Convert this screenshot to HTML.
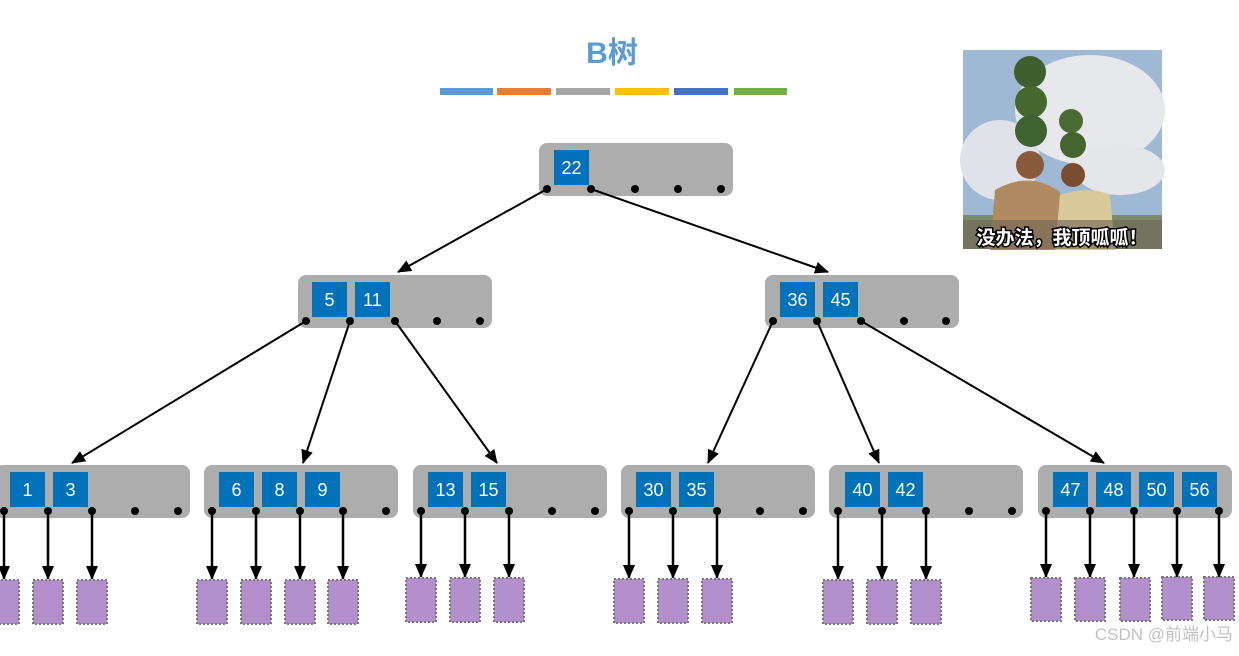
<!DOCTYPE html>
<html><head><meta charset="utf-8"><style>
body{margin:0;background:#fff;width:1239px;height:651px;overflow:hidden;font-family:"Liberation Sans","Noto Sans CJK SC",sans-serif}
</style></head><body>
<svg width="1239" height="651" xmlns="http://www.w3.org/2000/svg" font-family="Liberation Sans, Noto Sans CJK SC, sans-serif">
<defs>
<marker id="a" markerWidth="8" markerHeight="8" refX="7" refY="4" orient="auto" markerUnits="userSpaceOnUse"><path d="M0,0 L8,4 L0,8z" fill="#000"/></marker>
<marker id="b" markerWidth="14" markerHeight="12" refX="13" refY="6" orient="auto" markerUnits="userSpaceOnUse"><path d="M0,0 L14,6 L0,12z" fill="#000"/></marker>
</defs>
<text x="612" y="63" font-size="30" font-weight="bold" fill="#5b9bd5" text-anchor="middle">B树</text>
<g>
<rect x="440" y="88" width="53" height="7" fill="#5b9bd5"/>
<rect x="497" y="88" width="54" height="7" fill="#ed7d31"/>
<rect x="556" y="88" width="54" height="7" fill="#a5a5a5"/>
<rect x="615" y="88" width="54" height="7" fill="#ffc000"/>
<rect x="674" y="88" width="54" height="7" fill="#4472c4"/>
<rect x="734" y="88" width="53" height="7" fill="#70ad47"/>
</g>
<!-- nodes -->
<g fill="#adadad">
<rect x="539" y="143" width="194" height="53" rx="8"/>
<rect x="298" y="275" width="194" height="53" rx="8"/>
<rect x="765" y="275" width="194" height="53" rx="8"/>
<rect x="-5" y="465" width="195" height="53" rx="8"/>
<rect x="204" y="465" width="194" height="53" rx="8"/>
<rect x="413" y="465" width="194" height="53" rx="8"/>
<rect x="621" y="465" width="194" height="53" rx="8"/>
<rect x="829" y="465" width="194" height="53" rx="8"/>
<rect x="1038" y="465" width="194" height="53" rx="8"/>
</g>
<g fill="#0072b9">
<rect x="554" y="150" width="35" height="35"/>
<rect x="312" y="282" width="35" height="35"/><rect x="355" y="282" width="35" height="35"/>
<rect x="780" y="282" width="35" height="35"/><rect x="823" y="282" width="35" height="35"/>
<rect x="10" y="472" width="35" height="35"/><rect x="53" y="472" width="35" height="35"/>
<rect x="219" y="472" width="35" height="35"/><rect x="262" y="472" width="35" height="35"/><rect x="305" y="472" width="35" height="35"/>
<rect x="428" y="472" width="35" height="35"/><rect x="471" y="472" width="35" height="35"/>
<rect x="636" y="472" width="35" height="35"/><rect x="679" y="472" width="35" height="35"/>
<rect x="845" y="472" width="35" height="35"/><rect x="888" y="472" width="35" height="35"/>
<rect x="1053" y="472" width="35" height="35"/><rect x="1096" y="472" width="35" height="35"/><rect x="1139" y="472" width="35" height="35"/><rect x="1182" y="472" width="35" height="35"/>
</g>
<g fill="#fff" font-size="18" text-anchor="middle">
<text x="571.5" y="174">22</text>
<text x="329.5" y="306">5</text><text x="372.5" y="306">11</text>
<text x="797.5" y="306">36</text><text x="840.5" y="306">45</text>
<text x="27.5" y="496">1</text><text x="70.5" y="496">3</text>
<text x="236.5" y="496">6</text><text x="279.5" y="496">8</text><text x="322.5" y="496">9</text>
<text x="445.5" y="496">13</text><text x="488.5" y="496">15</text>
<text x="653.5" y="496">30</text><text x="696.5" y="496">35</text>
<text x="862.5" y="496">40</text><text x="905.5" y="496">42</text>
<text x="1070.5" y="496">47</text><text x="1113.5" y="496">48</text><text x="1156.5" y="496">50</text><text x="1199.5" y="496">56</text>
</g>
<!-- dots -->
<g fill="#000">
<circle cx="547" cy="189" r="4"/><circle cx="591" cy="189" r="4"/><circle cx="635" cy="189" r="4"/><circle cx="678" cy="189" r="4"/><circle cx="721" cy="189" r="4"/>
<circle cx="306" cy="321" r="4"/><circle cx="350" cy="321" r="4"/><circle cx="395" cy="321" r="4"/><circle cx="437" cy="321" r="4"/><circle cx="480" cy="321" r="4"/>
<circle cx="773" cy="321" r="4"/><circle cx="817" cy="321" r="4"/><circle cx="861" cy="321" r="4"/><circle cx="904" cy="321" r="4"/><circle cx="946" cy="321" r="4"/>
<circle cx="4" cy="511" r="4"/><circle cx="48" cy="511" r="4"/><circle cx="92" cy="511" r="4"/><circle cx="135" cy="511" r="4"/><circle cx="178" cy="511" r="4"/>
<circle cx="212" cy="511" r="4"/><circle cx="256" cy="511" r="4"/><circle cx="300" cy="511" r="4"/><circle cx="343" cy="511" r="4"/><circle cx="386" cy="511" r="4"/>
<circle cx="421" cy="511" r="4"/><circle cx="465" cy="511" r="4"/><circle cx="509" cy="511" r="4"/><circle cx="552" cy="511" r="4"/><circle cx="595" cy="511" r="4"/>
<circle cx="629" cy="511" r="4"/><circle cx="673" cy="511" r="4"/><circle cx="717" cy="511" r="4"/><circle cx="760" cy="511" r="4"/><circle cx="803" cy="511" r="4"/>
<circle cx="838" cy="511" r="4"/><circle cx="882" cy="511" r="4"/><circle cx="926" cy="511" r="4"/><circle cx="969" cy="511" r="4"/><circle cx="1012" cy="511" r="4"/>
<circle cx="1046" cy="511" r="4"/><circle cx="1090" cy="511" r="4"/><circle cx="1134" cy="511" r="4"/><circle cx="1177" cy="511" r="4"/><circle cx="1219" cy="511" r="4"/>
</g>
<!-- arrows -->
<g stroke="#000" stroke-width="2" fill="none" marker-end="url(#b)">
<line x1="547" y1="189" x2="398" y2="272"/>
<line x1="591" y1="189" x2="828" y2="272"/>
<line x1="306" y1="321" x2="72" y2="463"/>
<line x1="350" y1="321" x2="303" y2="463"/>
<line x1="395" y1="321" x2="497" y2="463"/>
<line x1="773" y1="321" x2="708" y2="463"/>
<line x1="817" y1="321" x2="879" y2="463"/>
<line x1="861" y1="321" x2="1104" y2="463"/>
</g>
<g stroke="#000" stroke-width="2.5" marker-end="url(#b)">
<line x1="4" y1="511" x2="4" y2="579"/><line x1="48" y1="511" x2="48" y2="579"/><line x1="92" y1="511" x2="92" y2="579"/>
<line x1="212" y1="511" x2="212" y2="579"/><line x1="256" y1="511" x2="256" y2="579"/><line x1="300" y1="511" x2="300" y2="579"/><line x1="343" y1="511" x2="343" y2="579"/>
<line x1="421" y1="511" x2="421" y2="577"/><line x1="465" y1="511" x2="465" y2="577"/><line x1="509" y1="511" x2="509" y2="577"/>
<line x1="629" y1="511" x2="629" y2="578"/><line x1="673" y1="511" x2="673" y2="578"/><line x1="717" y1="511" x2="717" y2="578"/>
<line x1="838" y1="511" x2="838" y2="579"/><line x1="882" y1="511" x2="882" y2="579"/><line x1="926" y1="511" x2="926" y2="579"/>
<line x1="1046" y1="511" x2="1046" y2="577"/><line x1="1090" y1="511" x2="1090" y2="577"/><line x1="1134" y1="511" x2="1134" y2="577"/><line x1="1177" y1="511" x2="1177" y2="577"/><line x1="1219" y1="511" x2="1219" y2="577"/>
</g>
<g fill="#b38fcb" stroke="#777" stroke-width="2" stroke-dasharray="2,2">
<rect x="-11" y="580" width="30" height="44"/><rect x="33" y="580" width="30" height="44"/><rect x="77" y="580" width="30" height="44"/>
<rect x="197" y="580" width="30" height="44"/><rect x="241" y="580" width="30" height="44"/><rect x="285" y="580" width="30" height="44"/><rect x="328" y="580" width="30" height="44"/>
<rect x="406" y="578" width="30" height="44"/><rect x="450" y="578" width="30" height="44"/><rect x="494" y="578" width="30" height="44"/>
<rect x="614" y="579" width="30" height="44"/><rect x="658" y="579" width="30" height="44"/><rect x="702" y="579" width="30" height="44"/>
<rect x="823" y="580" width="30" height="44"/><rect x="867" y="580" width="30" height="44"/><rect x="911" y="580" width="30" height="44"/>
<rect x="1031" y="578" width="30" height="43"/><rect x="1075" y="578" width="30" height="43"/><rect x="1120" y="578" width="30" height="43"/><rect x="1162" y="577" width="30" height="43"/><rect x="1204" y="577" width="30" height="43"/>
</g>
<!-- meme image approximation -->
<g>
<rect x="963" y="50" width="199" height="199" fill="#9fb8d4"/>
<ellipse cx="1090" cy="110" rx="75" ry="55" fill="#e6e8ec"/>
<ellipse cx="1000" cy="160" rx="40" ry="40" fill="#dfe2e8"/>
<ellipse cx="1120" cy="170" rx="45" ry="25" fill="#e4e6ea"/>
<circle cx="1030" cy="72" r="16" fill="#3f5f2e"/><circle cx="1031" cy="102" r="16" fill="#45682f"/><circle cx="1031" cy="131" r="16" fill="#3f6330"/>
<circle cx="1071" cy="121" r="12" fill="#4a6b33"/><circle cx="1073" cy="145" r="13" fill="#456530"/>
<rect x="963" y="215" width="199" height="34" fill="#7b8a6a"/>
<path d="M990,250 L995,190 Q1030,170 1060,192 L1065,250z" fill="#b08a60"/>
<path d="M1055,250 L1060,195 Q1090,185 1110,195 L1115,250z" fill="#d8c89a"/>
<circle cx="1030" cy="165" r="14" fill="#8a5a3c"/><circle cx="1073" cy="175" r="12" fill="#7a4c30"/>
<rect x="963" y="220" width="199" height="29" fill="#6f6656" opacity="0.6"/>
<text x="1062" y="244" font-size="19" font-weight="bold" fill="#fff" stroke="#000" stroke-width="3" paint-order="stroke" text-anchor="middle" font-family="Noto Sans CJK SC, sans-serif">没办法，我顶呱呱！</text>
</g>
<text x="1233" y="640" font-size="17" fill="#bbb" text-anchor="end" opacity="0.9">CSDN @前端小马</text>
</svg>
</body></html>
